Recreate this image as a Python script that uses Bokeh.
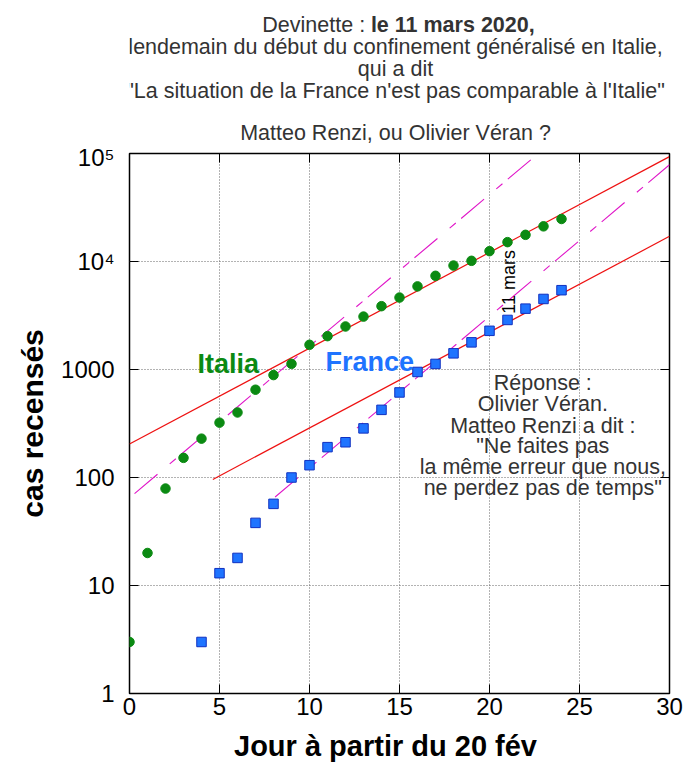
import math
from bokeh.plotting import figure
from bokeh.layouts import column
from bokeh.models import Range1d, FixedTicker, LinearAxis, LogAxis, Label
from bokeh.core.properties import value
from bokeh.embed import file_html
from bokeh.resources import INLINE

# ---- data ----
days_italia = list(range(0, 25))
cases_italia = [3, 20, 79, 152, 229, 322, 400, 650, 888, 1128, 1694, 2036, 2502,
                3089, 3858, 4636, 5883, 7375, 9172, 10149, 12462, 15113, 17660,
                21157, 24747]

days_france = list(range(4, 25))
cases_france = [3, 13, 18, 38, 57, 100, 130, 191, 212, 285, 423, 613, 949, 1126,
                1412, 1784, 2281, 2876, 3661, 4499, 5423]

# exponential fits (solid red) and steeper trends (dashed magenta)
fit_italia_x = [0, 30]
fit_italia_y = [204, 93500]
fit_france_x = [4.63, 30]
fit_france_y = [96, 17100]
trend_italia_x = [0.28, 23.5]
trend_italia_y = [71, 129000]
trend_france_x = [8.09, 30]
trend_france_y = [66, 78700]

x_ticks = [0, 5, 10, 15, 20, 25, 30]
y_ticks = [1, 10, 100, 1000, 10000, 100000]
y_tick_labels = ["1", "10", "100", "1000", "10\u2074", "10\u2075"]

title_lines = ["lendemain du d\u00e9but du confinement g\u00e9n\u00e9ralis\u00e9 en Italie,",
               "qui a dit",
               "\"La situation de la France n'est pas comparable \u00e0 l'Italie\"",
               "Matteo Renzi, ou Olivier V\u00e9ran ?"]
answer = ["R\u00e9ponse :", "Olivier V\u00e9ran.", "Matteo Renzi a dit :",
          "\"Ne faites pas", "la m\u00eame erreur que nous,", "ne perdez pas de temps\""]

FONT = "Liberation Sans"
GREEN = "#0b8a12"
BLUE = "#1f74ff"
RED = "#ee1111"
MAGENTA = "#e015c8"
GRAY = "#333333"
W = 694
LEFT, RIGHT = 129, 25


def strip_fig(h):
    # text strip; its frame is aligned with the main plot frame by the column layout
    f = figure(width=W, height=h, x_range=Range1d(LEFT, W - RIGHT), y_range=Range1d(h, 0),
               output_backend="svg", toolbar_location=None,
               x_axis_location=None, y_axis_location=None,
               min_border_left=LEFT, min_border_right=RIGHT,
               min_border_top=0, min_border_bottom=0)
    f.title.visible = False
    f.xgrid.visible = False
    f.ygrid.visible = False
    f.outline_line_color = None
    f.background_fill_color = "white"
    f.border_fill_color = "white"
    return f


# ---------------- title strip ----------------
tf = strip_fig(143)
tf.text(x=[364.6], y=[24], text=["Devinette :"], text_font=value(FONT),
        text_font_size="21.5px", text_color=GRAY, text_align="right",
        text_baseline="alphabetic")
tf.text(x=[370.4], y=[24], text=["le 11 mars 2020,"], text_font=value(FONT),
        text_font_size="21.5px", text_font_style="bold", text_color=GRAY,
        text_align="left", text_baseline="alphabetic")
tf.text(x=[395] * 4, y=[46, 68, 90, 132], text=title_lines, text_font=value(FONT),
        text_font_size="21.5px", text_color=GRAY, text_align="center",
        text_baseline="alphabetic")

# ---------------- main plot ----------------
p = figure(width=W, height=584, x_range=Range1d(0, 30), y_range=Range1d(1, 1e5),
           y_axis_type="log", output_backend="svg", toolbar_location=None,
           min_border_left=LEFT, min_border_right=RIGHT, min_border_top=10,
           min_border_bottom=34)
p.title.visible = False
p.background_fill_color = "white"
p.border_fill_color = "white"
p.outline_line_color = "black"
p.outline_line_width = 1.5
p.outline_line_alpha = 1.0

xt = FixedTicker(ticks=x_ticks)
yt = FixedTicker(ticks=y_ticks)

xa = p.xaxis[0]
ya = p.yaxis[0]
for ax in (xa, ya):
    ax.axis_line_color = None
    ax.major_tick_in = 9
    ax.major_tick_out = 0
    ax.major_tick_line_color = "black"
    ax.major_tick_line_width = 1
    ax.minor_tick_line_color = None
    ax.major_label_text_font = FONT
    ax.major_label_text_font_size = "24px"
    ax.major_label_text_color = "black"
xa.ticker = xt
ya.ticker = yt
xa.major_label_standoff = 4
ya.major_label_standoff = 15
ya.major_label_overrides = {t: l for t, l in zip(y_ticks, y_tick_labels)}
ya.axis_label = "cas recens\u00e9s"
ya.axis_label_text_font = FONT
ya.axis_label_text_font_size = "30px"
ya.axis_label_text_font_style = "bold"
ya.axis_label_text_color = "black"
ya.axis_label_standoff = 9

top = LinearAxis(ticker=xt)
right = LogAxis(ticker=yt)
for ax in (top, right):
    ax.axis_line_color = None
    ax.major_tick_in = 9
    ax.major_tick_out = 0
    ax.major_tick_line_color = "black"
    ax.minor_tick_line_color = None
    ax.major_label_text_font_size = "2px"
    ax.major_label_text_alpha = 0
    ax.major_label_standoff = 0
p.add_layout(top, "above")
p.add_layout(right, "right")

for g, t in ((p.xgrid[0], xt), (p.ygrid[0], yt)):
    g.ticker = t
    g.grid_line_color = "#666666"
    g.grid_line_dash = "1 2"
    g.grid_line_width = 1

p.line(fit_italia_x, fit_italia_y, line_color=RED, line_width=1.2)
p.line(fit_france_x, fit_france_y, line_color=RED, line_width=1.2)
p.line(trend_italia_x, trend_italia_y, line_color=MAGENTA, line_width=1.1, line_dash="30 16 8 7")
p.line(trend_france_x, trend_france_y, line_color=MAGENTA, line_width=1.1, line_dash="30 16 8 7")

p.scatter(days_italia, cases_italia, marker="circle", size=9.5,
          fill_color=GREEN, line_color=GREEN)
p.scatter(days_france, cases_france, marker="square", size=9.5,
          fill_color=BLUE, line_color="#1030c0", line_width=1)


def lab(x, y, text, size, color=GRAY, bold=False, align="center", angle=0.0):
    p.add_layout(Label(x=x, y=y, text=text, text_font=FONT,
                       text_font_size=f"{size}px", text_color=color,
                       text_font_style="bold" if bold else "normal",
                       text_align=align, text_baseline="alphabetic",
                       angle=angle))


lab(3.78, 10 ** 3.049, "Italia", 27, color=GREEN, bold=True, align="left")
lab(10.89, 10 ** 3.065, "France", 27, color=BLUE, bold=True, align="left")
lab(21.06, 10 ** 3.516, "11  mars", 18, color="black", align="left", angle=math.pi / 2)

answer_logy = [2.877, 2.676, 2.481, 2.290, 2.095, 1.904]
for t, ly in zip(answer, answer_logy):
    lab(22.96, 10 ** ly, t, 21.5)

# ---------------- x-axis title strip ----------------
xf = strip_fig(37)
xf.text(x=[385], y=[18], text=["Jour \u00e0 partir du 20 f\u00e9v"], text_font=value(FONT),
        text_font_size="29px", text_font_style="bold", text_color="black",
        text_align="center", text_baseline="alphabetic")

layout = column(tf, p, xf, spacing=0)
open("out.html", "w").write(file_html(layout, INLINE))
